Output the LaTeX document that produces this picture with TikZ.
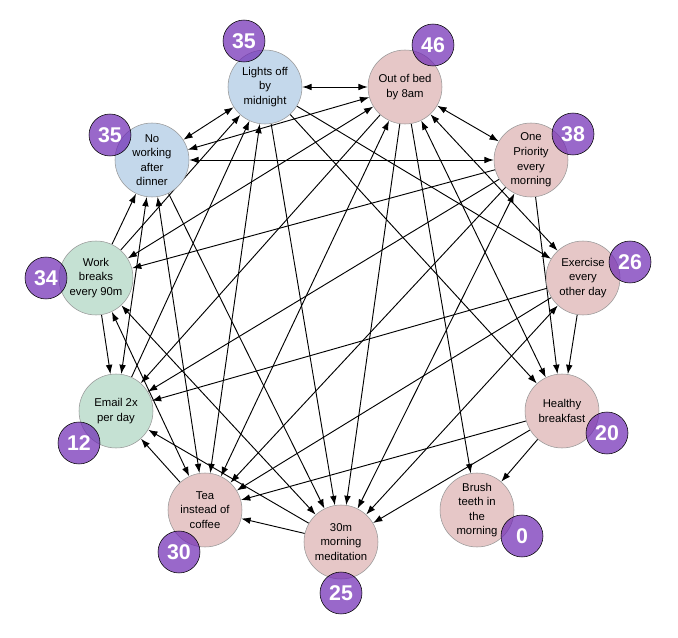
\documentclass[tikz,border=0pt]{standalone}
\usepackage{fontspec}
\setmainfont{Liberation Sans}
\usetikzlibrary{arrows.meta,backgrounds}
\definecolor{sleepblue}{RGB}{196,216,235}
\definecolor{habitpink}{RGB}{230,199,199}
\definecolor{workgreen}{RGB}{197,225,211}
\definecolor{ringgray}{RGB}{150,150,150}
\definecolor{scorepurple}{RGB}{110,40,180}
\tikzset{
    %Define standard arrow tip
    >={Latex[length=7pt,width=5pt]},
    %Define style for habits
    habit/.style={
           circle, minimum size=55.5pt, inner sep=0pt,
           draw=ringgray, align=center,
           font=\fontsize{8.5}{10.9}\selectfont},
    %Define style for score badges
    score/.style={
           circle, minimum size=31.5pt, inner sep=0pt,
           draw=black, fill=scorepurple, fill opacity=0.7,
           text opacity=1, text=white,
           font=\fontsize{16}{16}\selectfont\bfseries},
    % Define arrow styles
    link/.style={
           ->,
           line width=0.7pt},
    dlink/.style={
           <->,
           line width=0.7pt}
}

\begin{document}
\begin{tikzpicture}[x=0.75pt,y=-0.75pt]
	\useasboundingbox (0,0) rectangle (678,638);

	% Habits
	\node[habit, fill=sleepblue] (lights) at (265,87) {Lights off\\by\\midnight};
	\node[habit, fill=habitpink] (bed) at (405,87) {Out of bed\\by 8am};
	\node[habit, fill=habitpink] (prio) at (531,160) {One\\Priority\\every\\morning};
	\node[habit, fill=habitpink] (gym) at (583,278) {Exercise\\every\\other day};
	\node[habit, fill=habitpink] (food) at (562,411) {Healthy\\breakfast};
	\node[habit, fill=habitpink] (teeth) at (477,510) {Brush\\teeth in\\the\\morning};
	\node[habit, fill=habitpink] (medit) at (341,542) {30m\\morning\\meditation};
	\node[habit, fill=habitpink] (tea) at (205,510) {Tea\\instead of\\coffee};
	\node[habit, fill=workgreen] (email) at (116,411) {Email 2x\\per day};
	\node[habit, fill=workgreen] (pause) at (96,278) {Work\\breaks\\every 90m};
	\node[habit, fill=sleepblue] (dinner) at (152,160) {No\\working\\after\\dinner};

	% Links
	\begin{scope}[on background layer]
	\path[dlink] (lights) edge (bed)
	             (lights) edge (dinner)
	             (tea) edge (lights)
	             (bed) edge (dinner)
	             (bed) edge (pause)
	             (tea) edge (bed)
	             (bed) edge (food)
	             (bed) edge (gym)
	             (bed) edge (prio)
	             (prio) edge (dinner)
	             (tea) edge (dinner)
	             (email) edge (dinner)
	             (tea) edge (pause)
	             (pause) edge (medit)
	             (gym) edge (medit)
	             (prio) edge (medit);
	\path[link] (pause) edge (lights)
	            (email) edge (lights)
	            (lights) edge (medit)
	            (lights) edge (food)
	            (lights) edge (gym)
	            (bed) edge (email)
	            (bed) edge (medit)
	            (bed) edge (teeth)
	            (dinner) edge (medit)
	            (pause) edge (dinner)
	            (pause) edge (email)
	            (prio) edge (pause)
	            (gym) edge (email)
	            (gym) edge (tea)
	            (gym) edge (food)
	            (food) edge (tea)
	            (food) edge (medit)
	            (food) edge (teeth)
	            (prio) edge (email)
	            (prio) edge (tea)
	            (prio) edge (food)
	            (medit) edge (tea)
	            (medit) edge (email)
	            (tea) edge (email);
	\end{scope}

	% Scores
	\node[score] (s-lights) at (244,41) {35};
	\node[score] (s-bed) at (433,45) {46};
	\node[score] (s-prio) at (573,134) {38};
	\node[score] (s-gym) at (630,262) {26};
	\node[score] (s-food) at (607,433) {20};
	\node[score] (s-teeth) at (522,536) {0};
	\node[score] (s-medit) at (341,593) {25};
	\node[score] (s-tea) at (179,552) {30};
	\node[score] (s-email) at (79,443) {12};
	\node[score] (s-pause) at (46,278) {34};
	\node[score] (s-dinner) at (110,135) {35};
\end{tikzpicture}
\end{document}
